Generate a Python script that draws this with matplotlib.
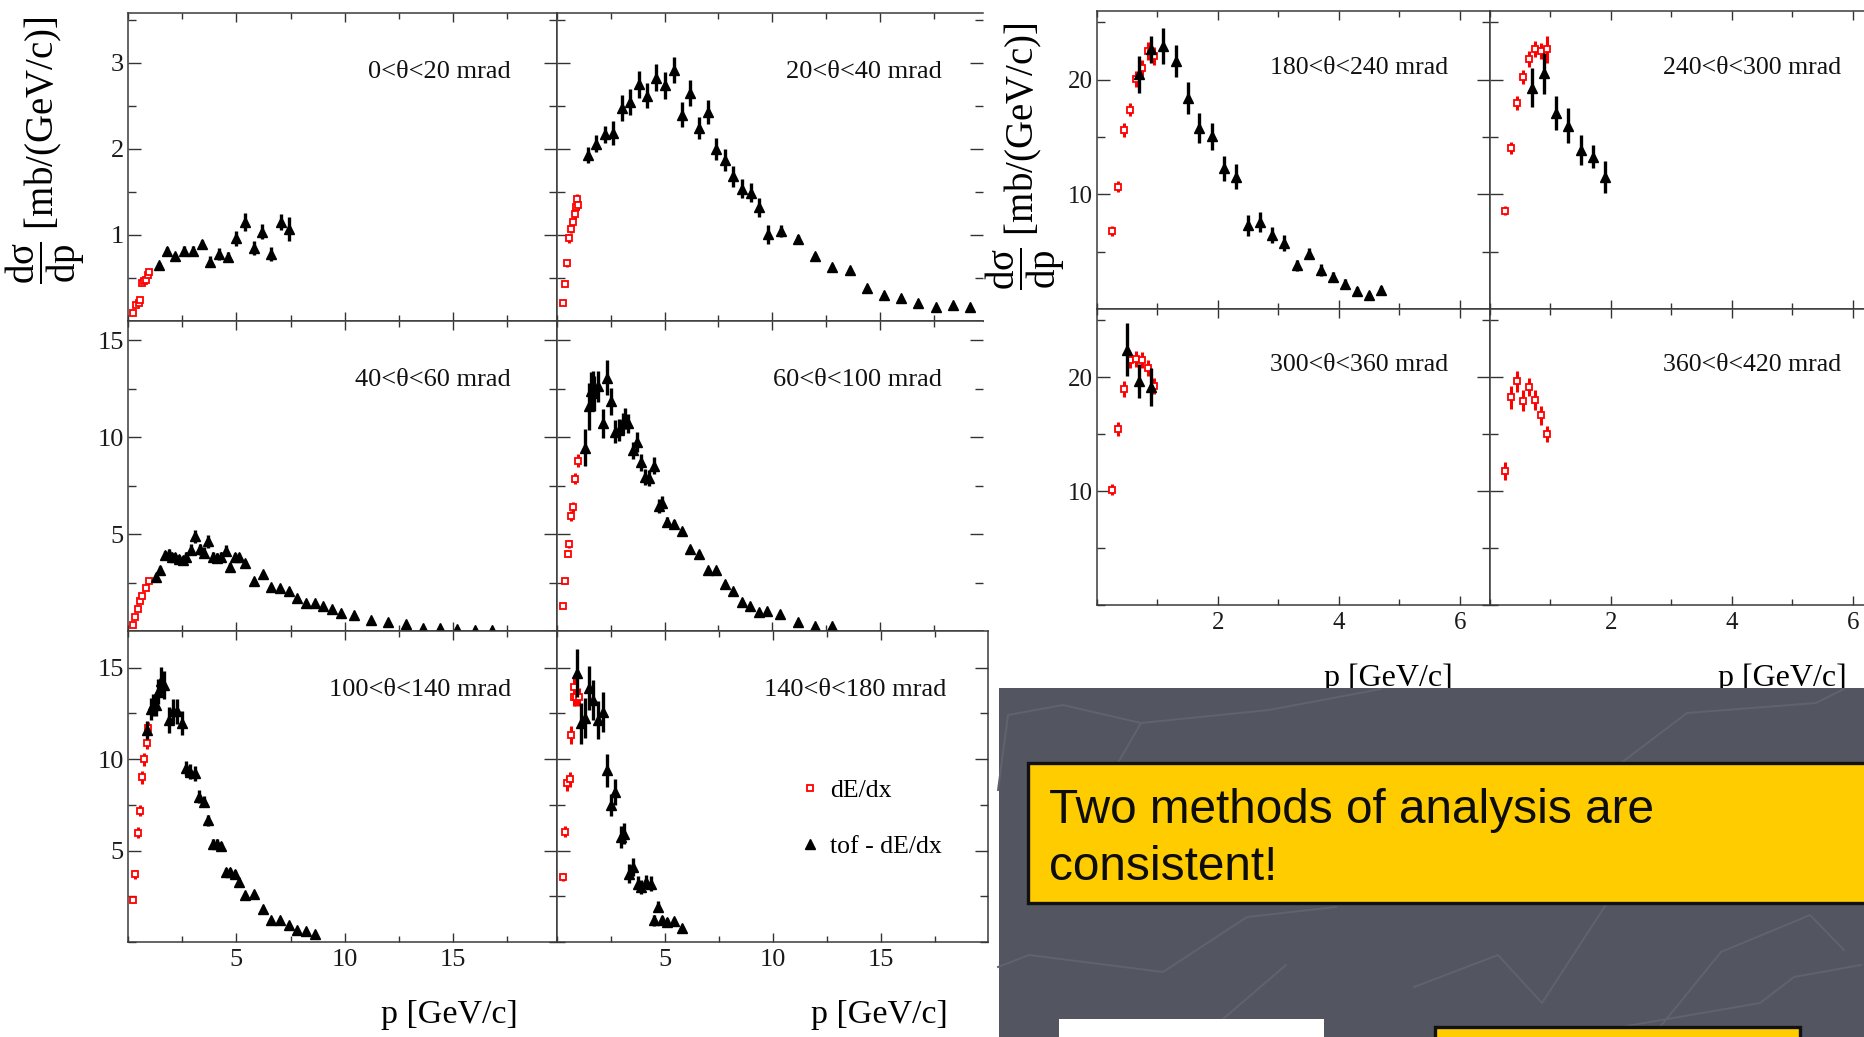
import matplotlib.pyplot as plt
from matplotlib.patches import Rectangle
from matplotlib.lines import Line2D
from matplotlib.ticker import FixedLocator, MultipleLocator

plt.rcParams['font.family'] = ['Liberation Serif', 'DejaVu Serif']
plt.rcParams['mathtext.fontset'] = 'custom'
plt.rcParams['mathtext.rm'] = 'Liberation Serif'
plt.rcParams['mathtext.it'] = 'Liberation Serif:italic'

# ---- data: p [GeV/c], dsigma/dp [mb/(GeV/c)], error ----
# 0 < theta < 20 mrad
p_de_0 = [0.23, 0.36, 0.50, 0.56, 0.66, 0.75, 0.83, 0.93, 0.96]
ds_de_0 = [0.09, 0.19, 0.21, 0.24, 0.44, 0.46, 0.48, 0.54, 0.57]
er_de_0 = [0.01, 0.02, 0.02, 0.03, 0.03, 0.03, 0.03, 0.04, 0.04]
p_tof_0 = [1.41, 1.80, 2.19, 2.60, 3.00, 3.40, 3.80, 4.20, 4.60, 5.00, 5.42, 5.80, 6.20, 6.60, 7.04, 7.42]
ds_tof_0 = [0.65, 0.81, 0.75, 0.81, 0.81, 0.89, 0.69, 0.78, 0.74, 0.96, 1.15, 0.85, 1.04, 0.78, 1.15, 1.07]
er_tof_0 = [0.03, 0.05, 0.04, 0.06, 0.06, 0.05, 0.06, 0.07, 0.06, 0.09, 0.10, 0.08, 0.09, 0.08, 0.09, 0.14]

# 20 < theta < 40 mrad
p_de_1 = [0.28, 0.37, 0.46, 0.55, 0.66, 0.74, 0.82, 0.89, 0.92, 0.98]
ds_de_1 = [0.215, 0.435, 0.67, 0.96, 1.07, 1.15, 1.24, 1.33, 1.42, 1.35]
er_de_1 = [0.02, 0.03, 0.04, 0.05, 0.05, 0.05, 0.06, 0.06, 0.06, 0.06]
p_tof_1 = [1.43, 1.82, 2.22, 2.62, 3.02, 3.40, 3.82, 4.20, 4.62, 5.00, 5.42, 5.80, 6.20, 6.60, 7.00, 7.40, 7.80,
           8.20, 8.60, 9.00, 9.40, 9.80, 10.4, 11.2, 12.0, 12.8, 13.6, 14.4, 15.2, 16.0, 16.8, 17.6, 18.4, 19.2]
ds_tof_1 = [1.93, 2.06, 2.17, 2.18, 2.48, 2.55, 2.75, 2.62, 2.83, 2.74, 2.92, 2.40, 2.65, 2.24, 2.43, 2.00, 1.87,
            1.68, 1.54, 1.49, 1.32, 1.01, 1.05, 0.95, 0.75, 0.63, 0.59, 0.38, 0.30, 0.27, 0.215, 0.165, 0.19, 0.165]
er_tof_1 = [0.09, 0.10, 0.10, 0.14, 0.15, 0.15, 0.16, 0.15, 0.16, 0.16, 0.15, 0.15, 0.15, 0.13, 0.14, 0.13, 0.13,
            0.12, 0.11, 0.11, 0.11, 0.11, 0.07, 0.05, 0.04, 0.03, 0.03, 0.03, 0.02, 0.02, 0.02, 0.02, 0.02, 0.02]

# 40 < theta < 60 mrad
p_de_2 = [0.23, 0.33, 0.45, 0.56, 0.66, 0.83, 0.96]
ds_de_2 = [0.29, 0.73, 1.16, 1.56, 1.80, 2.20, 2.58]
er_de_2 = [0.04, 0.05, 0.05, 0.06, 0.06, 0.07, 0.07]
p_tof_2 = [1.29, 1.49, 1.72, 1.89, 2.02, 2.19, 2.35, 2.52, 2.68, 2.90, 3.11, 3.31, 3.51, 3.71, 3.91, 4.11, 4.30,
           4.50, 4.70, 4.92, 5.10, 5.41, 5.83, 6.24, 6.62, 7.02, 7.42, 7.81, 8.23, 8.63, 9.02, 9.42, 9.82, 10.43,
           11.23, 12.02, 12.81, 13.63, 14.42, 15.20, 16.03, 16.82]
ds_tof_2 = [2.80, 3.15, 3.93, 4.00, 3.80, 3.80, 3.70, 3.67, 3.84, 4.19, 4.88, 4.22, 4.05, 4.62, 3.84, 3.79, 3.84,
            4.15, 3.32, 3.80, 3.80, 3.53, 2.60, 2.94, 2.28, 2.20, 2.08, 1.68, 1.45, 1.42, 1.28, 1.12, 0.93, 0.81,
            0.59, 0.47, 0.35, 0.17, 0.17, 0.12, 0.07, 0.03]
er_tof_2 = [0.15, 0.18, 0.22, 0.22, 0.22, 0.22, 0.22, 0.22, 0.25, 0.28, 0.35, 0.28, 0.28, 0.32, 0.25, 0.25, 0.25,
            0.28, 0.20, 0.22, 0.22, 0.15, 0.10, 0.10, 0.08, 0.08, 0.07, 0.06, 0.05, 0.05, 0.05, 0.04, 0.04, 0.03,
            0.03, 0.02, 0.02, 0.02, 0.02, 0.02, 0.01, 0.01]

# 60 < theta < 100 mrad
p_de_3 = [0.28, 0.37, 0.49, 0.57, 0.66, 0.75, 0.85, 0.97]
ds_de_3 = [1.27, 2.58, 4.00, 4.50, 5.92, 6.39, 7.87, 8.80]
er_de_3 = [0.10, 0.15, 0.20, 0.20, 0.25, 0.25, 0.30, 0.35]
p_tof_3 = [1.32, 1.51, 1.58, 1.66, 1.74, 1.89, 2.12, 2.32, 2.51, 2.71, 2.89, 3.05, 3.14, 3.28, 3.51, 3.71, 3.89,
           4.09, 4.28, 4.51, 4.74, 4.89, 5.09, 5.43, 5.82, 6.20, 6.60, 7.00, 7.40, 7.80, 8.20, 8.60, 8.98, 9.38,
           9.78, 10.38, 11.18, 11.98, 12.78]
ds_tof_3 = [9.46, 11.6, 12.37, 12.54, 12.28, 12.63, 10.71, 13.07, 11.85, 10.28, 10.37, 10.71, 10.98, 10.71, 9.32,
            9.76, 8.71, 7.96, 7.89, 8.54, 6.45, 6.62, 5.63, 5.52, 5.14, 4.23, 4.00, 3.14, 3.14, 2.44, 2.04, 1.52,
            1.27, 0.96, 1.01, 0.87, 0.47, 0.26, 0.26]
er_tof_3 = [0.95, 1.2, 1.0, 0.9, 0.9, 0.8, 0.75, 0.9, 0.7, 0.6, 0.55, 0.55, 0.55, 0.5, 0.45, 0.5, 0.45, 0.4, 0.4,
            0.45, 0.35, 0.35, 0.25, 0.2, 0.2, 0.15, 0.15, 0.1, 0.1, 0.08, 0.08, 0.06, 0.05, 0.05, 0.05, 0.04, 0.03,
            0.02, 0.02]

# 100 < theta < 140 mrad
p_de_4 = [0.23, 0.33, 0.45, 0.56, 0.66, 0.76, 0.86, 0.94]
ds_de_4 = [2.28, 3.70, 5.97, 7.17, 9.00, 9.98, 10.9, 11.68]
er_de_4 = [0.15, 0.25, 0.30, 0.30, 0.35, 0.35, 0.35, 0.35]
p_tof_4 = [0.89, 1.06, 1.16, 1.27, 1.39, 1.52, 1.66, 1.90, 2.09, 2.25, 2.48, 2.68, 2.85, 3.10, 3.29, 3.51, 3.71,
           3.92, 4.12, 4.29, 4.52, 4.72, 4.92, 5.12, 5.41, 5.81, 6.21, 6.62, 7.02, 7.42, 7.81, 8.23, 8.63]
ds_tof_4 = [11.59, 12.72, 12.96, 12.96, 13.69, 14.29, 14.05, 12.14, 12.6, 12.6, 11.95, 9.49, 9.31, 9.22, 7.94,
            7.66, 6.66, 5.38, 5.38, 5.24, 3.83, 3.83, 3.74, 3.28, 2.55, 2.65, 1.82, 1.19, 1.19, 0.91, 0.64, 0.60, 0.46]
er_tof_4 = [0.5, 0.6, 0.6, 0.6, 0.7, 0.75, 0.75, 0.7, 0.7, 0.7, 0.65, 0.4, 0.4, 0.4, 0.35, 0.3, 0.3, 0.25, 0.25,
            0.25, 0.2, 0.2, 0.2, 0.15, 0.1, 0.1, 0.08, 0.06, 0.06, 0.05, 0.04, 0.04, 0.03]

# 140 < theta < 180 mrad
p_de_5 = [0.28, 0.37, 0.48, 0.58, 0.67, 0.77, 0.81, 0.89, 1.01]
ds_de_5 = [3.56, 6.02, 8.67, 8.89, 11.31, 13.38, 13.96, 13.38, 13.38]
er_de_5 = [0.2, 0.3, 0.4, 0.4, 0.5, 0.5, 0.5, 0.5, 0.5]
p_tof_5 = [0.92, 1.12, 1.30, 1.50, 1.66, 1.90, 2.12, 2.32, 2.50, 2.70, 2.96, 3.11, 3.31, 3.50, 3.73, 3.91, 4.11,
           4.34, 4.49, 4.69, 4.88, 5.08, 5.41, 5.80]
ds_tof_5 = [14.69, 11.95, 12.23, 13.87, 13.23, 12.14, 12.59, 9.40, 7.48, 8.21, 5.75, 5.93, 3.74, 4.10, 3.19, 3.01,
            3.28, 3.19, 1.19, 1.92, 1.19, 1.09, 1.15, 0.78]
er_tof_5 = [1.3, 1.1, 1.1, 1.2, 1.1, 1.05, 1.1, 0.9, 0.6, 0.7, 0.6, 0.6, 0.5, 0.5, 0.4, 0.4, 0.4, 0.4, 0.3, 0.3,
            0.25, 0.2, 0.15, 0.1]

# 180 < theta < 240 mrad
p_de_6 = [0.25, 0.35, 0.44, 0.55, 0.65, 0.74, 0.84, 0.89, 0.94]
ds_de_6 = [6.81, 10.67, 15.64, 17.40, 20.09, 21.05, 22.51, 22.37, 22.08]
er_de_6 = [0.4, 0.5, 0.6, 0.6, 0.7, 0.7, 0.8, 0.8, 0.8]
p_tof_6 = [0.69, 0.90, 1.09, 1.30, 1.50, 1.69, 1.90, 2.10, 2.30, 2.49, 2.69, 2.90, 3.09, 3.30, 3.50, 3.70, 3.90,
           4.10, 4.30, 4.50, 4.70]
ds_tof_6 = [20.47, 22.66, 22.95, 21.64, 18.42, 15.79, 15.06, 12.28, 11.55, 7.31, 7.60, 6.43, 5.76, 3.80, 4.82,
            3.42, 2.78, 2.19, 1.61, 1.26, 1.67]
er_tof_6 = [1.6, 1.2, 1.6, 1.4, 1.4, 1.3, 1.2, 1.1, 1.1, 0.9, 0.85, 0.7, 0.7, 0.5, 0.5, 0.5, 0.45, 0.4, 0.3, 0.2, 0.3]

# 240 < theta < 300 mrad
p_de_7 = [0.25, 0.35, 0.45, 0.55, 0.64, 0.75, 0.84, 0.94]
ds_de_7 = [8.57, 14.04, 17.98, 20.26, 21.78, 22.72, 22.51, 22.66]
er_de_7 = [0.4, 0.5, 0.6, 0.6, 0.7, 0.7, 0.7, 1.2]
p_tof_7 = [0.69, 0.89, 1.09, 1.29, 1.50, 1.70, 1.90]
ds_tof_7 = [19.30, 20.56, 17.10, 16.00, 13.90, 13.30, 11.55]
er_tof_7 = [1.7, 1.8, 1.5, 1.5, 1.3, 1.0, 1.4]

# 300 < theta < 360 mrad
p_de_8 = [0.25, 0.35, 0.45, 0.55, 0.65, 0.74, 0.84, 0.94]
ds_de_8 = [10.12, 15.45, 18.97, 21.50, 21.60, 21.55, 20.80, 19.27]
er_de_8 = [0.5, 0.6, 0.7, 0.7, 0.7, 0.7, 0.7, 0.7]
p_tof_8 = [0.50, 0.70, 0.90]
ds_tof_8 = [22.43, 19.65, 19.15]
er_tof_8 = [2.3, 1.5, 1.7]

# 360 < theta < 420 mrad (dE/dx only)
p_de_9 = [0.25, 0.35, 0.45, 0.54, 0.64, 0.74, 0.84, 0.94]
ds_de_9 = [11.78, 18.25, 19.65, 17.96, 19.18, 18.02, 16.65, 15.04]
er_de_9 = [0.8, 1.0, 0.9, 0.9, 0.8, 0.9, 0.8, 0.7]

labels = ['0<θ<20 mrad', '20<θ<40 mrad', '40<θ<60 mrad', '60<θ<100 mrad', '100<θ<140 mrad',
          '140<θ<180 mrad', '180<θ<240 mrad', '240<θ<300 mrad', '300<θ<360 mrad', '360<θ<420 mrad']
legend_names = ['dE/dx', 'tof - dE/dx']
message = ['Two methods of analysis are', 'consistent!']

# ---- figure ----
W, H = 1865, 1037
fig = plt.figure(figsize=(W / 100, H / 100), dpi=100)


def box(x0, y0, x1, y1):
    # pixel box measured from the top-left corner -> figure fraction rect
    return [x0 / W, 1 - y1 / H, (x1 - x0) / W, (y1 - y0) / H]


def panel(rect, xlim, ylim, xmaj, xmin, ymaj, ymin, show_x, show_y, lsize):
    ax = fig.add_axes(rect)
    ax.set_xlim(*xlim)
    ax.set_ylim(*ylim)
    ax.xaxis.set_major_locator(FixedLocator(xmaj))
    ax.xaxis.set_minor_locator(MultipleLocator(xmin))
    ax.yaxis.set_major_locator(FixedLocator(ymaj))
    ax.yaxis.set_minor_locator(MultipleLocator(ymin))
    ax.tick_params(which='both', direction='in', top=True, right=True, color='#333333', width=1.0,
                   labelsize=lsize, labelcolor='#1a1a1a', labelbottom=show_x, labelleft=show_y)
    ax.tick_params(axis='y', which='major', length=9.5, pad=3)
    ax.tick_params(axis='y', which='minor', length=5.5)
    ax.tick_params(axis='x', which='major', length=6.5, pad=5)
    ax.tick_params(axis='x', which='minor', length=4)
    for s in ax.spines.values():
        s.set_color('#3a3a3a')
        s.set_linewidth(1.1)
    return ax


def points(ax, p_de, ds_de, er_de, p_tof, ds_tof, er_tof):
    h_de = ax.errorbar(p_de, ds_de, yerr=er_de, fmt='s', ms=5, mfc='white', mec='red', mew=1.3,
                       ecolor='red', elinewidth=2.2, capsize=0, zorder=3)
    h_tof = None
    if p_tof:
        h_tof = ax.errorbar(p_tof, ds_tof, yerr=er_tof, fmt='^', ms=6.5, color='black', mec='black',
                            ecolor='black', elinewidth=2.4, capsize=0, zorder=4)
    return h_de, h_tof


# left block: 3 rows x 2 columns
rows_px = [(13, 321), (321, 631), (631, 942)]
cols_px = [(128, 557), (557, 983)]
ylims = [(0, 3.58), (0, 16.0), (0, 17.0)]
ymajors = [[1, 2, 3], [5, 10, 15], [5, 10, 15]]
yminors = [0.5, 2.5, 2.5]
left_data = [
    (p_de_0, ds_de_0, er_de_0, p_tof_0, ds_tof_0, er_tof_0),
    (p_de_1, ds_de_1, er_de_1, p_tof_1, ds_tof_1, er_tof_1),
    (p_de_2, ds_de_2, er_de_2, p_tof_2, ds_tof_2, er_tof_2),
    (p_de_3, ds_de_3, er_de_3, p_tof_3, ds_tof_3, er_tof_3),
    (p_de_4, ds_de_4, er_de_4, p_tof_4, ds_tof_4, er_tof_4),
    (p_de_5, ds_de_5, er_de_5, p_tof_5, ds_tof_5, er_tof_5),
]

for i, d in enumerate(left_data):
    r, c = divmod(i, 2)
    x0, x1 = cols_px[c]
    xmax = 19.8
    if r == 2 and c == 1:
        x1, xmax = 988, 19.95
    y0, y1 = rows_px[r]
    ax = panel(box(x0, y0, x1, y1), (0, xmax), ylims[r], [5, 10, 15], 2.5, ymajors[r], yminors[r],
               r == 2, c == 0, 19)
    if c == 1 and r < 2:
        ax.spines['right'].set_visible(False)
    h_de, h_tof = points(ax, *d)
    ax.text(0.893 if c == 0 else 0.903, 0.81, labels[i], transform=ax.transAxes, ha='right', va='center',
            fontsize=19, color='#111111')
    if i == 5:
        ax.legend([h_de[0], h_tof[0]], legend_names, loc='upper left', bbox_to_anchor=(0.503, 0.6),
                  frameon=False, fontsize=18.5, handlelength=1.0, handletextpad=0.3, labelspacing=1.3,
                  numpoints=1, borderpad=0.4)

# right block: 2 rows x 2 columns
rrows_px = [(11, 309), (309, 605)]
rcols_px = [(1097, 1490), (1490, 1883)]
right_data = [
    (p_de_6, ds_de_6, er_de_6, p_tof_6, ds_tof_6, er_tof_6),
    (p_de_7, ds_de_7, er_de_7, p_tof_7, ds_tof_7, er_tof_7),
    (p_de_8, ds_de_8, er_de_8, p_tof_8, ds_tof_8, er_tof_8),
    (p_de_9, ds_de_9, er_de_9, [], [], []),
]
for i, d in enumerate(right_data):
    r, c = divmod(i, 2)
    x0, x1 = rcols_px[c]
    y0, y1 = rrows_px[r]
    ax = panel(box(x0, y0, x1, y1), (0, 6.5), (0, 26), [2, 4, 6], 1, [10, 20], 5, r == 1, c == 0, 18)
    points(ax, *d)
    ax.text(0.893, 0.81, labels[6 + i], transform=ax.transAxes, ha='right', va='center',
            fontsize=18.5, color='#111111')

# axis titles
ylab = r'$\dfrac{\mathrm{d\sigma}}{\mathrm{dp}}$ [mb/(GeV/c)]'
fig.text(45 / W, 1 - 150 / H, ylab, rotation=90, ha='center', va='center', fontsize=28)
fig.text(1025 / W, 1 - 156 / H, ylab, rotation=90, ha='center', va='center', fontsize=28)
for xr in (518, 948):
    fig.text(xr / W, 1 - 1015 / H, 'p [GeV/c]', ha='right', va='center', fontsize=24.5)
for xr in (1453, 1847):
    fig.text(xr / W, 1 - 678 / H, 'p [GeV/c]', ha='right', va='center', fontsize=23)

# slide background area with the message box
gray = '#535560'
fig.add_artist(Rectangle((999 / W, 0), 1, 1 - 688 / H, transform=fig.transFigure, facecolor=gray,
                         edgecolor='none', zorder=10))
deco = [
    [(1063, 705), (1141, 723), (1269, 710), (1381, 689)],
    [(1141, 723), (1118, 763)],
    [(1687, 713), (1816, 703), (1844, 689)],
    [(1687, 713), (1621, 763)],
    [(998, 967), (1029, 955), (1163, 972), (1247, 917), (1336, 907)],
    [(1286, 965), (1202, 1037)],
    [(1414, 987), (1498, 955), (1542, 1003), (1607, 903)],
    [(1621, 1027), (1760, 1003), (1794, 977), (1861, 965)],
    [(1721, 952), (1810, 915), (1844, 950)],
    [(1721, 952), (1660, 1027)],
    [(998, 790), (1008, 715), (1063, 705)],
]
for line in deco:
    fig.add_artist(Line2D([q[0] / W for q in line], [1 - q[1] / H for q in line], transform=fig.transFigure,
                          color='#60626d', lw=1.4, zorder=10.5))

fig.add_artist(Rectangle((1028 / W, 1 - 903 / H), 900 / W, 140 / H, transform=fig.transFigure,
                         facecolor='#ffcc00', edgecolor='#111111', lw=2.4, zorder=11))
fig.text(1049 / W, 1 - 823 / H, message[0], ha='left', va='baseline', fontsize=34.4,
         family=['Liberation Sans', 'DejaVu Sans'], color='#0d0d0d', zorder=12)
fig.text(1049 / W, 1 - 880 / H, message[1], ha='left', va='baseline', fontsize=34.4,
         family=['Liberation Sans', 'DejaVu Sans'], color='#0d0d0d', zorder=12)

fig.add_artist(Rectangle((1059 / W, 1 - 1045 / H), 265 / W, 26 / H, transform=fig.transFigure,
                         facecolor='white', edgecolor='none', zorder=11))
fig.add_artist(Rectangle((1435 / W, 1 - 1045 / H), 365 / W, 18 / H, transform=fig.transFigure,
                         facecolor='#ffcc00', edgecolor='#111111', lw=2.4, zorder=11))

fig.savefig('out.png', dpi=100)
